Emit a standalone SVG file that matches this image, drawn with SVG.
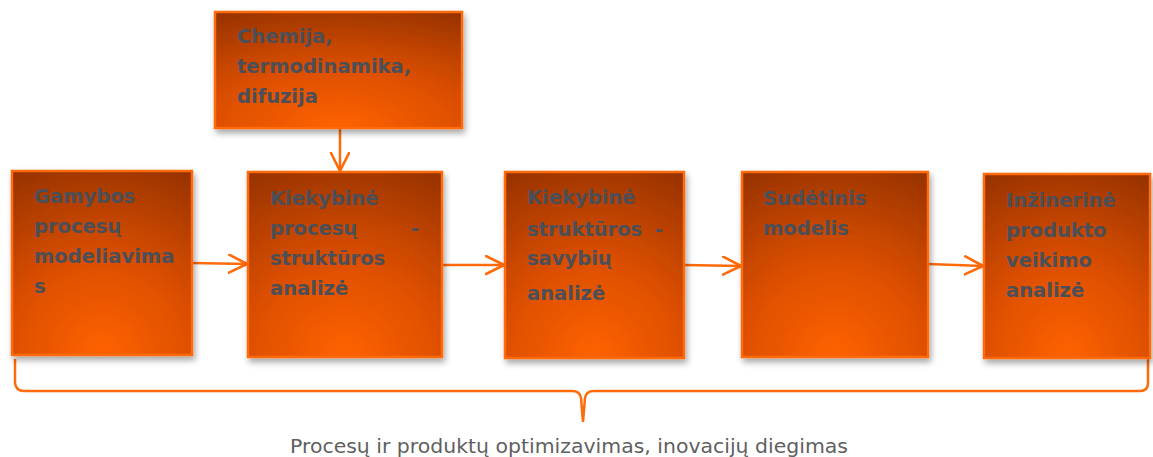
<svg xmlns="http://www.w3.org/2000/svg" width="1153" height="457" viewBox="0 0 1153 457">
<defs>
<radialGradient id="g" cx="0.5" cy="1" r="1.15" fx="0.5" fy="1">
<stop offset="0" stop-color="#FF6200"/>
<stop offset="0.45" stop-color="#DC4F00"/>
<stop offset="1" stop-color="#913000"/>
</radialGradient>
<filter id="sh" x="-10%" y="-10%" width="125%" height="130%">
<feDropShadow dx="2" dy="4" stdDeviation="3" flood-color="#000" flood-opacity="0.35"/>
</filter>
<marker id="ar" markerWidth="24" markerHeight="24" refX="19" refY="10" orient="auto" markerUnits="userSpaceOnUse">
<path d="M1,1 L19,10 L1,19" fill="none" stroke="#FF6A0A" stroke-width="2.6" stroke-linecap="round" stroke-linejoin="round"/>
</marker>
</defs>
<style>
.box{fill:url(#g);stroke:#FF6A0A;stroke-width:2.5;filter:url(#sh)}
.t{font-family:"DejaVu Sans","Liberation Sans",sans-serif;font-weight:bold;font-size:19.5px;fill:#4A4F59}
.c{fill:none;stroke:#FF6A0A;stroke-width:2.5}
.cap{font-family:"DejaVu Sans","Liberation Sans",sans-serif;font-size:19px;fill:#606060}
</style>
<g id="connectors">
<line class="c" x1="340" y1="128" x2="340" y2="171" marker-end="url(#ar)"/>
<line class="c" x1="192" y1="263" x2="247" y2="264" marker-end="url(#ar)"/>
<line class="c" x1="442" y1="265" x2="504" y2="265" marker-end="url(#ar)"/>
<line class="c" x1="684" y1="265" x2="741" y2="266" marker-end="url(#ar)"/>
<line class="c" x1="928" y1="264" x2="983" y2="266" marker-end="url(#ar)"/>
<path class="c" d="M15,359 L15,383 Q16,391 24,391 L572,391 Q580,391 581,398 L583,422 L585,398 Q586,391 594,391 L1140,391 Q1148,391 1148,383 L1148,359"/>
</g>
<g id="n0">
<rect class="box" x="215" y="12" width="247" height="116"/>
<text class="t" x="237" y="43">Chemija,</text>
<text class="t" x="237" y="73">termodinamika,</text>
<text class="t" x="237" y="103">difuzija</text>
</g>
<g id="n1">
<rect class="box" x="12" y="171" width="180" height="184"/>
<text class="t" x="34" y="203">Gamybos</text>
<text class="t" x="34" y="233">procesų</text>
<text class="t" x="34" y="263">modeliavima</text>
<text class="t" x="34" y="293">s</text>
</g>
<g id="n2">
<rect class="box" x="248" y="172" width="194" height="185"/>
<text class="t" x="270" y="205">Kiekybinė</text>
<text class="t" x="270" y="235">procesų</text>
<text class="t" x="411" y="235">-</text>
<text class="t" x="270" y="265">struktūros</text>
<text class="t" x="270" y="295">analizė</text>
</g>
<g id="n3">
<rect class="box" x="505" y="172" width="179" height="186"/>
<text class="t" x="527" y="204">Kiekybinė</text>
<text class="t" x="527" y="236">struktūros</text>
<text class="t" x="655" y="236">-</text>
<text class="t" x="527" y="265">savybių</text>
<text class="t" x="527" y="300">analizė</text>
</g>
<g id="n4">
<rect class="box" x="742" y="172" width="186" height="185"/>
<text class="t" x="763" y="205">Sudėtinis</text>
<text class="t" x="763" y="235">modelis</text>
</g>
<g id="n5">
<rect class="box" x="984" y="174" width="166" height="184"/>
<text class="t" x="1006" y="207">Inžinerinė</text>
<text class="t" x="1006" y="237">produkto</text>
<text class="t" x="1006" y="267">veikimo</text>
<text class="t" x="1006" y="297">analizė</text>
</g>
<text class="cap" x="290" y="453" textLength="558" lengthAdjust="spacingAndGlyphs">Procesų ir produktų optimizavimas, inovacijų diegimas</text>
</svg>
